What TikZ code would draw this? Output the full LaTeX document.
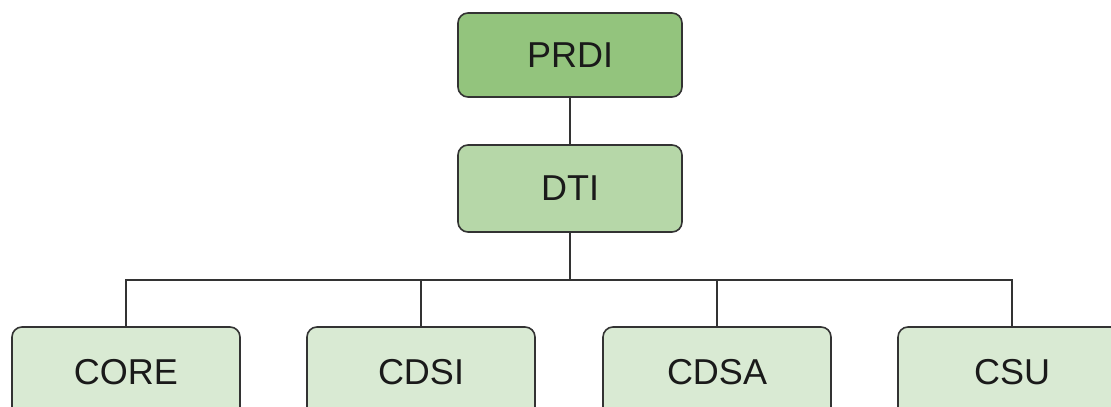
\documentclass[tikz,border=0pt]{standalone}
\usepackage{fontspec}
\setmainfont{Liberation Sans}
\usetikzlibrary{positioning}
\definecolor{cDark}{HTML}{93C47D}
\definecolor{cMid}{HTML}{B6D7A8}
\definecolor{cLight}{HTML}{D9EAD3}
\definecolor{cLine}{HTML}{333333}
\definecolor{cText}{HTML}{1A1A1A}
\tikzset{
  unit/.style={rectangle, rounded corners=5pt, draw=cLine, line width=0.8pt,
    text=cText, font=\fontsize{18}{20}\selectfont, inner sep=0pt},
  head/.style={unit, fill=cDark, minimum width=112pt, minimum height=42pt},
  dept/.style={unit, fill=cMid, minimum width=112pt, minimum height=43.5pt},
  cell/.style={unit, fill=cLight, minimum width=114pt, minimum height=45pt},
  link/.style={cLine, line width=0.7pt},
}
\begin{document}
\begin{tikzpicture}[x=0.5pt, y=-0.5pt]
\useasboundingbox (0,0) rectangle (1111,406);
\clip (0,0) rectangle (1111,406);
\node[head] (prdi) at (570,55) {PRDI};
\node[dept] (dti) at (570,188.5) {DTI};
\node[cell] (core) at (126,372) {CORE};
\node[cell] (cdsi) at (421,372) {CDSI};
\node[cell] (cdsa) at (717,372) {CDSA};
\node[cell] (csu) at (1012,372) {CSU};
\coordinate (bus) at (570,280);
% connectors
\draw[link] (prdi) -- (dti);
\draw[link] (dti) -- (bus);
\foreach \n in {core,cdsi,cdsa,csu}
  \draw[link] (bus) -| (\n);
\end{tikzpicture}
\end{document}
